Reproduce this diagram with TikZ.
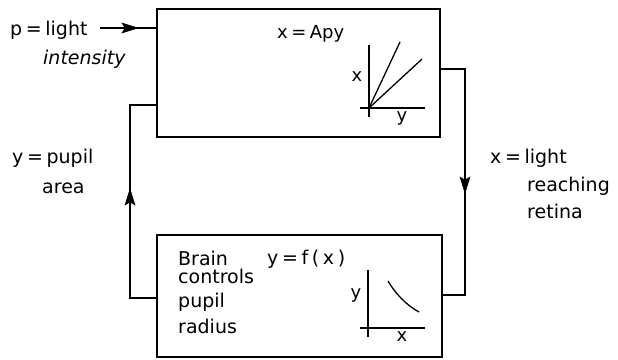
\documentclass[tikz,border=0pt]{standalone}
\usepackage{fontspec}
\setmainfont{DejaVu Sans}[WordSpace=0.6]
\begin{document}
\begin{tikzpicture}[x=1pt,y=1pt,
  box/.style={draw, line width=1.6pt, rectangle, inner sep=0pt},
  wire/.style={line width=1.4pt},
  head/.style={fill=black, draw=black, line width=0.5pt, line join=miter},
  lbl/.style={anchor=base west, inner sep=0pt, font=\fontsize{19}{22}\selectfont},
  eq/.style={anchor=base west, inner sep=0pt, font=\fontsize{18}{21}\selectfont},
  glbl/.style={inner sep=0pt, font=\fontsize{18}{21}\selectfont},
  axis/.style={line width=1.3pt}
]
\useasboundingbox (0,0) rectangle (618,-359);
% boxes
\node[box, minimum width=283pt, minimum height=128pt] (plant) at (298.5,-73) {};
\node[box, minimum width=285pt, minimum height=122pt] (brain) at (299.5,-296) {};
% input
\coordinate (in) at (100,-28);
\coordinate (inTip) at (138,-28);
\draw[wire] (in) -- (inTip -| plant.west);
\fill[head] (inTip) -- ++(-16,5) -- ++(3,-5) -- ++(-3,-5) -- cycle;
% left loop
\coordinate (lb) at (130,-298);
\coordinate (lt) at (130,-105);
\coordinate (lTip) at (130,-189);
\draw[wire] (lb -| brain.west) -- (lb) -- (lt) -- (lt -| plant.west);
\fill[head] (lTip) -- ++(5,-16) -- ++(-5,3) -- ++(-5,-3) -- cycle;
% right loop
\coordinate (rt) at (465,-69);
\coordinate (rb) at (465,-295);
\coordinate (rTip) at (465,-193);
\draw[wire] (rt -| plant.east) -- (rt) -- (rb) -- (rb -| brain.east);
\fill[head] (rTip) -- ++(5,16) -- ++(-5,-3) -- ++(-5,3) -- cycle;
% outside labels
\node[lbl] (p1) at (10,-35) {p = light};
\node[lbl] (p2) at (43,-64) {\itshape intensity};
\node[lbl] (y1) at (12,-163) {y = pupil};
\node[lbl] (y2) at (42,-193) {area};
\node[lbl] (x1) at (490,-163) {x = light};
\node[lbl] (x2) at (527,-191) {reaching};
\node[lbl] (x3) at (527,-218) {retina};
% top box content
\node[eq] (e1) at (277,-38) {x = Apy};
\draw[axis] (369,-45) -- (369,-117);
\draw[axis] (360,-108) -- (425,-108);
\draw[axis] (369,-108) -- (400,-42);
\draw[axis] (369,-108) -- (422,-59);
\node[glbl] (gx1) at (357,-77) {x};
\node[glbl] (gy1) at (402,-118) {y};
% bottom box content
\node[lbl] (b1) at (178,-265) {Brain};
\node[lbl] (b2) at (178,-283) {controls};
\node[lbl] (b3) at (178,-307) {pupil};
\node[lbl] (b4) at (178,-333) {radius};
\node[eq, font=\fontsize{19}{22}\selectfont] (e2) at (267,-264) {y = f ( x )};
\draw[axis] (368,-270) -- (368,-337);
\draw[axis] (360,-328) -- (425,-328);
\draw[axis] (388,-281) .. controls (395,-293) and (406,-305) .. (419,-312);
\node[glbl] (gy2) at (356,-295) {y};
\node[glbl] (gx2) at (402,-337) {x};
\end{tikzpicture}
\end{document}
